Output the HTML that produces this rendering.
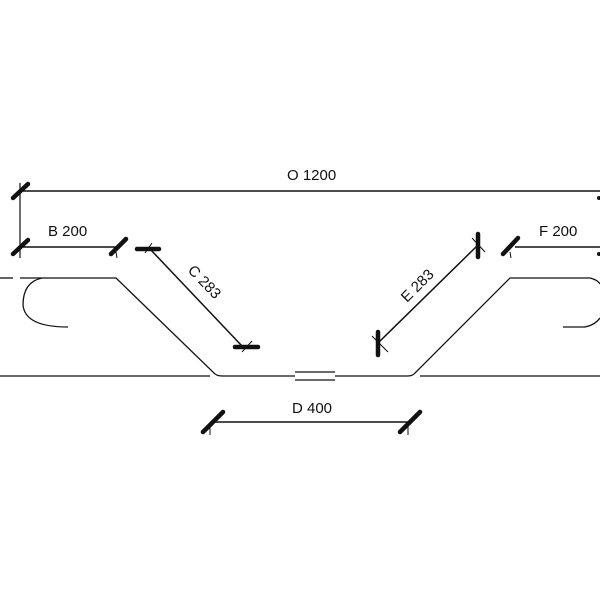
<!DOCTYPE html>
<html><head><style>body{margin:0;background:#fff}</style></head><body>
<svg width="600" height="600" viewBox="0 0 600 600" xmlns="http://www.w3.org/2000/svg" font-family="Liberation Sans, sans-serif" font-size="15" fill="none" stroke="#111">
<rect width="600" height="600" fill="#fff" stroke="none"/>
<line x1="20" y1="191" x2="600" y2="191" stroke-width="1.5"/>
<line x1="20" y1="183" x2="20" y2="258" stroke-width="1.2"/>
<g stroke-width="4.5" stroke-linecap="round">
<line x1="13" y1="198" x2="28" y2="184"/>
<line x1="13" y1="254" x2="28" y2="240"/>
<line x1="111" y1="254" x2="126" y2="239"/>
<line x1="203" y1="432" x2="223" y2="412"/>
<line x1="400" y1="432" x2="420" y2="412"/>
<line x1="503" y1="254" x2="518" y2="238"/>
<line x1="137" y1="249" x2="159" y2="249"/>
<line x1="235" y1="347" x2="258" y2="347"/>
<line x1="478" y1="234" x2="478" y2="257"/>
<line x1="378" y1="332" x2="378" y2="355"/>
</g>
<g stroke-width="1">
<line x1="116" y1="252" x2="117" y2="258"/>
<line x1="145" y1="253" x2="152" y2="243"/>
<line x1="242" y1="352" x2="252" y2="341"/>
<line x1="472" y1="238" x2="485" y2="252"/>
<line x1="372" y1="336" x2="388" y2="352"/>
<line x1="210" y1="425" x2="210" y2="435"/>
<line x1="408" y1="425" x2="408" y2="435"/>
<line x1="510" y1="252" x2="511" y2="258"/>
</g>
<line x1="20" y1="247" x2="120" y2="247" stroke-width="1.5"/>
<line x1="515" y1="247" x2="600" y2="247" stroke-width="1.5"/>
<line x1="150" y1="249" x2="242" y2="346" stroke-width="1.5"/>
<line x1="378" y1="343" x2="478" y2="245" stroke-width="1.5"/>
<line x1="212" y1="422" x2="410" y2="422" stroke-width="1.5"/>
<circle cx="599" cy="198" r="2" fill="#111" stroke="none"/>
<circle cx="599" cy="254" r="2" fill="#111" stroke="none"/>
<g stroke-width="1.3">
<line x1="0" y1="278" x2="13" y2="278"/>
<path d="M20 278 H116 L213 372 Q216 376 222 376 H295"/>
<path d="M42 278 Q23 282 23 305 Q25 327 68 327"/>
<line x1="0" y1="376" x2="210" y2="376"/>
<line x1="295" y1="372" x2="335" y2="372"/>
<line x1="295" y1="380" x2="335" y2="380"/>
<path d="M335 376 H408 Q413 376 416 372 L510 278 H590 Q598 280 600 284"/>
<path d="M563 327 H585 Q595 325 600 318"/>
<line x1="420" y1="376" x2="600" y2="376"/>
</g>
<g fill="#111" stroke="none">
<text x="287" y="180">O 1200</text>
<text x="48" y="236">B 200</text>
<text x="539" y="236">F 200</text>
<text x="292" y="413">D 400</text>
<text transform="translate(187,271) rotate(46)">C 283</text>
<text transform="translate(407,303) rotate(-45)">E 283</text>
</g>
</svg>
</body></html>
